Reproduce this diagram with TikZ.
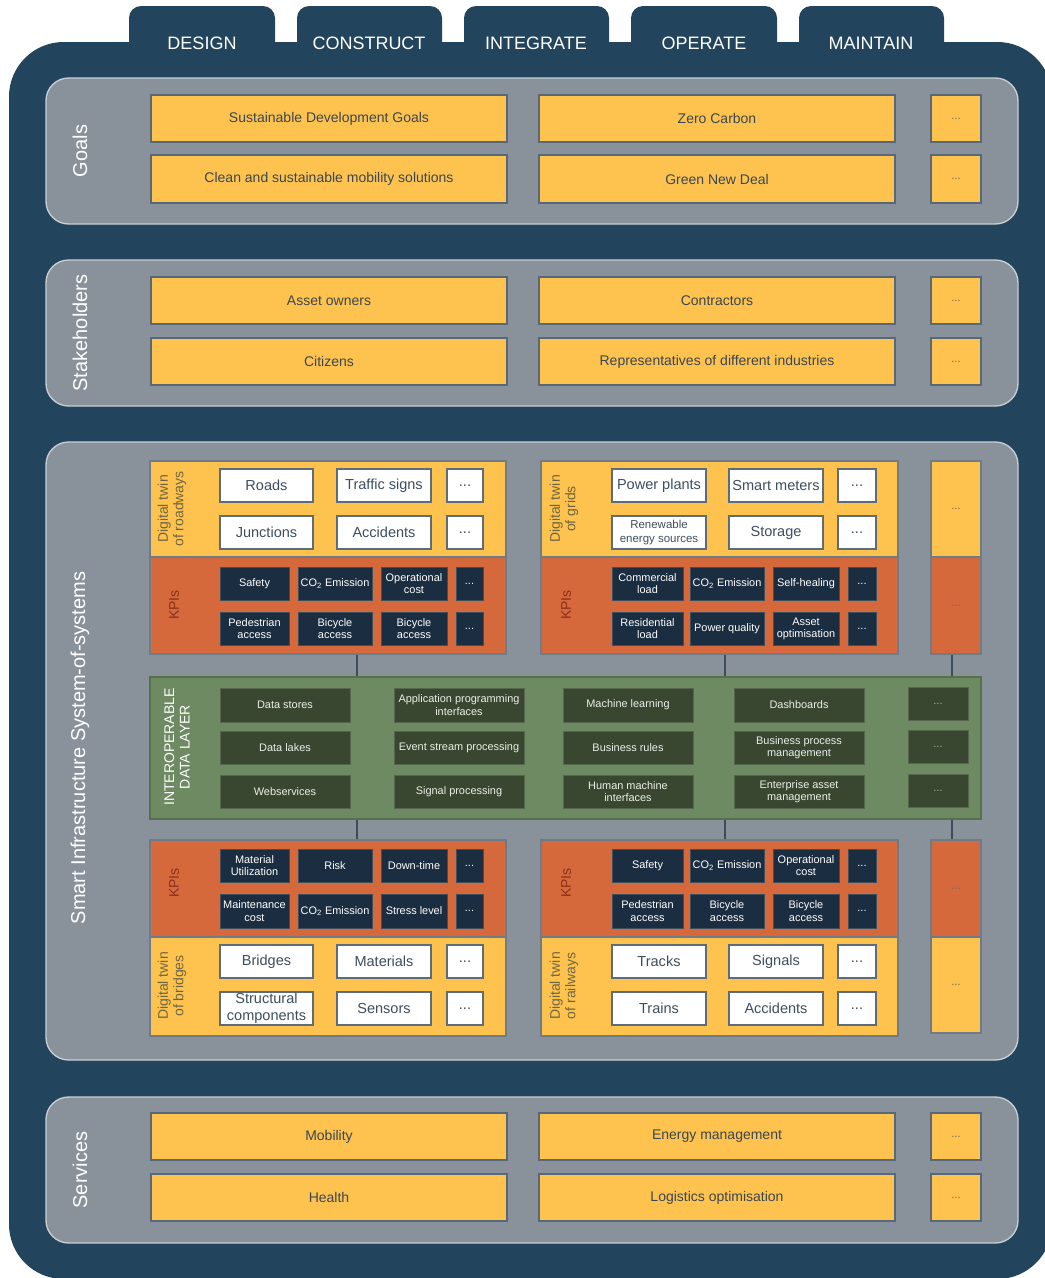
\documentclass[tikz,border=0pt]{standalone}
\usepackage{fontspec}
\setmainfont{Liberation Sans}
\usetikzlibrary{calc}
\definecolor{dkblue}{HTML}{23445D}
\definecolor{pgray}{HTML}{89929B}
\definecolor{pborder}{HTML}{C9CED3}
\definecolor{yel}{HTML}{FEC34F}
\definecolor{yborder}{HTML}{56687A}
\definecolor{ytext}{HTML}{3A4652}
\definecolor{orng}{HTML}{D5693C}
\definecolor{navy}{HTML}{1B2D40}
\definecolor{navyb}{HTML}{3E4F5E}
\definecolor{grn}{HTML}{6D8A62}
\definecolor{grnb}{HTML}{56704C}
\definecolor{dgrn}{HTML}{394731}
\definecolor{dgrnb}{HTML}{55664C}
\definecolor{dltext}{HTML}{ECEFE8}
\definecolor{wborder}{HTML}{5C6C7A}
\definecolor{wtext}{HTML}{3D4E5E}
\definecolor{layb}{HTML}{6E7B88}
\definecolor{dtlab}{HTML}{6E6540}
\definecolor{kpilab}{HTML}{8A301B}
\definecolor{graydots}{HTML}{6F6C68}
\definecolor{dldots}{HTML}{A3AC9F}
\definecolor{conn}{HTML}{3C4C5C}
\newcommand\fsA{\fontsize{10.5}{12.6}\selectfont}
\newcommand\fsW{\fontsize{10.9}{12.6}\selectfont}
\newcommand\fsK{\fontsize{8.2}{9.2}\selectfont}
\newcommand\fsS{\fontsize{8.5}{9.5}\selectfont}
\newcommand\fsR{\fontsize{8.6}{9.8}\selectfont}
\newcommand\fsL{\fontsize{10.5}{11.5}\selectfont}
\newcommand\fsP{\fontsize{15}{17}\selectfont}
\newcommand\fsT{\fontsize{13.5}{15}\selectfont}
\newcommand\bx[7]{%
 \pgfmathsetmacro\mybw{(#5-#3)*0.75}%
 \pgfmathsetmacro\mybh{(#6-#4)*0.75}%
 \node[#2, minimum width=\mybw pt, minimum height=\mybh pt] (#1) at ({(#3+#5)/2},{(#4+#6)/2}) {#7};}
\tikzset{
 base/.style={inner sep=0pt, align=center, draw},
 tab/.style={base, fill=dkblue, draw=none, rounded corners=9pt},
 panel/.style={base, fill=pgray, draw=pborder, line width=1pt, rounded corners=17pt},
 ybig/.style={base, fill=yel, draw=yborder, line width=0.8pt, text=ytext, font=\fsA},
 ysmall/.style={base, fill=yel, draw=yborder, line width=0.8pt, text=graydots, font=\fsS},
 wbox/.style={base, fill=white, draw=wborder, line width=0.8pt, text=wtext, font=\fsW},
 kpi/.style={base, fill=navy, draw=navyb, line width=0.6pt, text=white, font=\fsK},
 dlbox/.style={base, fill=dgrn, draw=dgrnb, line width=0.6pt, text=dltext, font=\fsK},
 dlayer/.style={base, fill=grn, draw=grnb, line width=0.8pt},
 ylay/.style={base, fill=yel, draw=layb, line width=0.8pt},
 olay/.style={base, fill=orng, draw=layb, line width=0.8pt},
 rdots/.style={text=graydots, font=\fsS},
 plab/.style={rotate=90, text=white, font=\fsP},
 tablab/.style={text=white, font=\fsT},
 dtl/.style={rotate=90, text=dtlab, font=\fsL, align=center, inner sep=0pt},
 kpil/.style={rotate=90, text=kpilab, font=\fsL, inner sep=0pt},
 cline/.style={draw=conn, line width=0.8pt}
}
\begin{document}
\begin{tikzpicture}[x=0.75pt,y=-0.75pt]
\useasboundingbox (0,0) rectangle (1045,1278);
\clip (0,0) rectangle (1045,1278);
\fill[white] (0,0) rectangle (1045,1278);
% tabs
\bx{tab1}{tab}{129}{6}{275}{80}{}
\bx{tab2}{tab}{297}{6}{442}{80}{}
\bx{tab3}{tab}{464}{6}{609}{80}{}
\bx{tab4}{tab}{631}{6}{777}{80}{}
\bx{tab5}{tab}{799}{6}{944}{80}{}
% body
\bx{body}{base, fill=dkblue, draw=none, rounded corners=41pt}{9}{42}{1052}{1279}{}
\node[tablab] (tl1) at (202,43) {DESIGN};
\node[tablab] (tl2) at (369,43) {CONSTRUCT};
\node[tablab] (tl3) at (536,43) {INTEGRATE};
\node[tablab] (tl4) at (704,43) {OPERATE};
\node[tablab] (tl5) at (871,43) {MAINTAIN};
% panels
\bx{pgoals}{panel}{46}{78}{1018}{224}{}
\bx{pstake}{panel}{46}{260}{1018}{406}{}
\bx{psmart}{panel}{46}{442}{1018}{1060}{}
\bx{pserv}{panel}{46}{1097}{1018}{1243}{}
\node[plab] (lgoals) at (80,151) {Goals};
\node[plab] (lstake) at (80,333) {Stakeholders};
\node[plab] (lsmart) at (80,748) {Smart Infrastructure System-of-systems};
\node[plab] (lserv) at (80,1170) {Services};
% goals
\bx{g11}{ybig}{151}{95}{507}{142}{Sustainable Development Goals}
\bx{g12}{ybig}{539}{95}{895}{142}{Zero Carbon}
\bx{g13}{ysmall}{931}{95}{981}{142}{...}
\bx{g21}{ybig}{151}{155}{507}{203}{Clean and sustainable mobility solutions}
\bx{g22}{ybig}{539}{155}{895}{203}{Green New Deal}
\bx{g23}{ysmall}{931}{155}{981}{203}{...}
% stakeholders
\bx{s11}{ybig}{151}{277}{507}{324}{Asset owners}
\bx{s12}{ybig}{539}{277}{895}{324}{Contractors}
\bx{s13}{ysmall}{931}{277}{981}{324}{...}
\bx{s21}{ybig}{151}{338}{507}{385}{Citizens}
\bx{s22}{ybig}{539}{338}{895}{385}{Representatives of different industries}
\bx{s23}{ysmall}{931}{338}{981}{385}{...}
% services
\bx{v11}{ybig}{151}{1113}{507}{1160}{Mobility}
\bx{v12}{ybig}{539}{1113}{895}{1160}{Energy management}
\bx{v13}{ysmall}{931}{1113}{981}{1160}{...}
\bx{v21}{ybig}{151}{1174}{507}{1221}{Health}
\bx{v22}{ybig}{539}{1174}{895}{1221}{Logistics optimisation}
\bx{v23}{ysmall}{931}{1174}{981}{1221}{...}
% ---- roadways
\bx{rdy}{ylay}{150}{461}{506}{557}{}
\bx{rdo}{olay}{150}{557}{506}{654}{}
\node[dtl] (rdl) at (172,509) {Digital twin\\of roadways};
\node[kpil] (rkl) at (174,605) {KPIs};
\bx{rw1}{wbox}{220}{469}{313}{502}{Roads}
\bx{rw2}{wbox}{337}{469}{431}{502}{Traffic signs}
\bx{rw3}{wbox}{447}{469}{483}{502}{...}
\bx{rw4}{wbox}{220}{516}{313}{549}{Junctions}
\bx{rw5}{wbox}{337}{516}{431}{549}{Accidents}
\bx{rw6}{wbox}{447}{516}{483}{549}{...}
\bx{rk1}{kpi}{220}{567}{289}{600}{Safety}
\bx{rk2}{kpi}{298}{567}{372}{600}{CO\textsubscript{2} Emission}
\bx{rk3}{kpi}{381}{567}{447}{600}{Operational\\cost}
\bx{rk4}{kpi}{456}{567}{483}{600}{...}
\bx{rk5}{kpi}{220}{612}{289}{645}{Pedestrian\\access}
\bx{rk6}{kpi}{298}{612}{372}{645}{Bicycle\\access}
\bx{rk7}{kpi}{381}{612}{447}{645}{Bicycle\\access}
\bx{rk8}{kpi}{456}{612}{483}{645}{...}
% ---- grids
\bx{gdy}{ylay}{541}{461}{898}{557}{}
\bx{gdo}{olay}{541}{557}{898}{654}{}
\node[dtl] (gdl) at (564,509) {Digital twin\\of grids};
\node[kpil] (gkl) at (566,605) {KPIs};
\bx{gw1}{wbox}{612}{469}{706}{502}{Power plants}
\bx{gw2}{wbox}{729}{469}{823}{502}{Smart meters}
\bx{gw3}{wbox}{838}{469}{876}{502}{...}
\bx{gw4}{wbox, font=\fsR}{612}{516}{706}{549}{Renewable\\energy sources}
\bx{gw5}{wbox}{729}{516}{823}{549}{Storage}
\bx{gw6}{wbox}{838}{516}{876}{549}{...}
\bx{gk1}{kpi}{612}{567}{683}{600}{Commercial\\load}
\bx{gk2}{kpi}{690}{567}{764}{600}{CO\textsubscript{2} Emission}
\bx{gk3}{kpi}{773}{567}{839}{600}{Self-healing}
\bx{gk4}{kpi}{848}{567}{876}{600}{...}
\bx{gk5}{kpi}{612}{612}{683}{645}{Residential\\load}
\bx{gk6}{kpi}{690}{612}{764}{645}{Power quality}
\bx{gk7}{kpi}{773}{612}{839}{645}{Asset\\optimisation}
\bx{gk8}{kpi}{848}{612}{876}{645}{...}
% ---- right column top
\bx{xty}{ylay}{931}{461}{981}{557}{}
\bx{xto}{olay}{931}{557}{981}{654}{}
\node[rdots] (xtyd) at (xty) {...};
\node[rdots] (xtod) at (xto) {...};
% ---- data layer
\bx{dl}{dlayer}{150}{677}{981}{819}{}
\node[rotate=90, text=white, font=\fsL, align=center] (dll) at (177,747) {INTEROPERABLE\\DATA LAYER};
\bx{d11}{dlbox}{220}{688}{350}{722}{Data stores}
\bx{d12}{dlbox}{220}{731}{350}{764}{Data lakes}
\bx{d13}{dlbox}{220}{775}{350}{808}{Webservices}
\bx{d21}{dlbox}{394}{688}{524}{722}{Application programming\\interfaces}
\bx{d22}{dlbox}{394}{731}{524}{764}{Event stream processing}
\bx{d23}{dlbox}{394}{775}{524}{808}{Signal processing}
\bx{d31}{dlbox}{563}{688}{693}{722}{Machine learning}
\bx{d32}{dlbox}{563}{731}{693}{764}{Business rules}
\bx{d33}{dlbox}{563}{775}{693}{808}{Human machine\\interfaces}
\bx{d41}{dlbox}{734}{688}{864}{722}{Dashboards}
\bx{d42}{dlbox}{734}{731}{864}{764}{Business process\\management}
\bx{d43}{dlbox}{734}{775}{864}{808}{Enterprise asset\\management}
\bx{d51}{dlbox, font=\fsS, text=dldots}{908}{687}{968}{720}{...}
\bx{d52}{dlbox, font=\fsS, text=dldots}{908}{730}{968}{763}{...}
\bx{d53}{dlbox, font=\fsS, text=dldots}{908}{774}{968}{807}{...}
% ---- bridges
\bx{bdo}{olay}{150}{840}{506}{937}{}
\bx{bdy}{ylay}{150}{937}{506}{1036}{}
\node[kpil] (bkl) at (174,883) {KPIs};
\node[dtl] (bdl) at (172,986) {Digital twin\\of bridges};
\bx{bk1}{kpi}{220}{849}{289}{882}{Material\\Utilization}
\bx{bk2}{kpi}{298}{849}{372}{882}{Risk}
\bx{bk3}{kpi}{381}{849}{447}{882}{Down-time}
\bx{bk4}{kpi}{456}{849}{483}{882}{...}
\bx{bk5}{kpi}{220}{894}{289}{928}{Maintenance\\cost}
\bx{bk6}{kpi}{298}{894}{372}{928}{CO\textsubscript{2} Emission}
\bx{bk7}{kpi}{381}{894}{447}{928}{Stress level}
\bx{bk8}{kpi}{456}{894}{483}{928}{...}
\bx{bw1}{wbox}{220}{945}{313}{978}{Bridges}
\bx{bw2}{wbox}{337}{945}{431}{978}{Materials}
\bx{bw3}{wbox}{447}{945}{483}{978}{...}
\bx{bw4}{wbox}{220}{992}{313}{1025}{Structural\\components}
\bx{bw5}{wbox}{337}{992}{431}{1025}{Sensors}
\bx{bw6}{wbox}{447}{992}{483}{1025}{...}
% ---- railways
\bx{ado}{olay}{541}{840}{898}{937}{}
\bx{ady}{ylay}{541}{937}{898}{1036}{}
\node[kpil] (akl) at (566,883) {KPIs};
\node[dtl] (adl) at (564,986) {Digital twin\\of railways};
\bx{ak1}{kpi}{612}{849}{683}{882}{Safety}
\bx{ak2}{kpi}{690}{849}{764}{882}{CO\textsubscript{2} Emission}
\bx{ak3}{kpi}{773}{849}{839}{882}{Operational\\cost}
\bx{ak4}{kpi}{848}{849}{876}{882}{...}
\bx{ak5}{kpi}{612}{894}{683}{928}{Pedestrian\\access}
\bx{ak6}{kpi}{690}{894}{764}{928}{Bicycle\\access}
\bx{ak7}{kpi}{773}{894}{839}{928}{Bicycle\\access}
\bx{ak8}{kpi}{848}{894}{876}{928}{...}
\bx{aw1}{wbox}{612}{945}{706}{978}{Tracks}
\bx{aw2}{wbox}{729}{945}{823}{978}{Signals}
\bx{aw3}{wbox}{838}{945}{876}{978}{...}
\bx{aw4}{wbox}{612}{992}{706}{1025}{Trains}
\bx{aw5}{wbox}{729}{992}{823}{1025}{Accidents}
\bx{aw6}{wbox}{838}{992}{876}{1025}{...}
% ---- right column bottom
\bx{xbo}{olay}{931}{840}{981}{937}{}
\bx{xby}{ylay}{931}{937}{981}{1033}{}
\node[rdots] (xbod) at (xbo) {...};
\node[rdots] (xbyd) at (xby) {...};
% ---- connectors
\coordinate (cx1) at (357,0);
\coordinate (cx2) at (725,0);
\coordinate (cx3) at (952,0);
\draw[cline] (cx1 |- rdo.south) -- (cx1 |- dl.north);
\draw[cline] (cx2 |- gdo.south) -- (cx2 |- dl.north);
\draw[cline] (cx3 |- xto.south) -- (cx3 |- dl.north);
\draw[cline] (cx1 |- dl.south) -- (cx1 |- bdo.north);
\draw[cline] (cx2 |- dl.south) -- (cx2 |- ado.north);
\draw[cline] (cx3 |- dl.south) -- (cx3 |- xbo.north);
\end{tikzpicture}
\end{document}
